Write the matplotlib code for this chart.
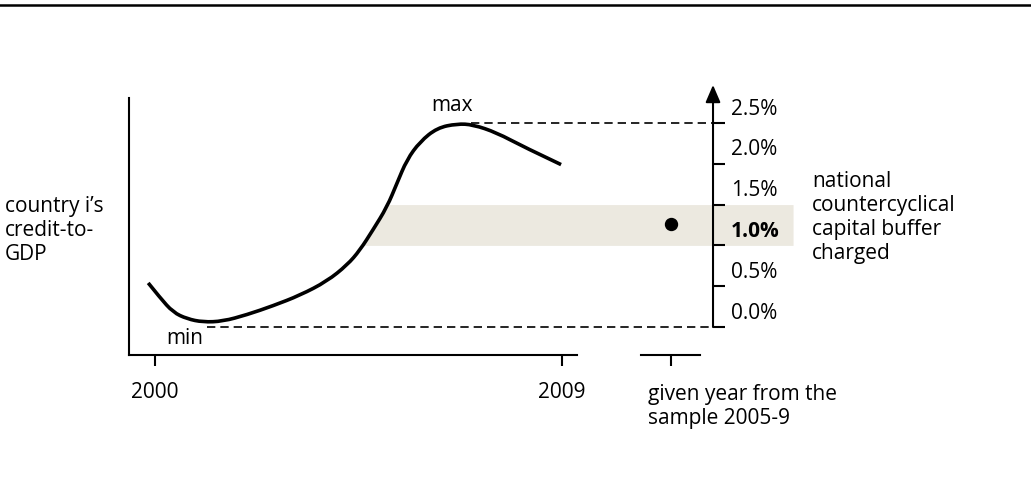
import numpy as np
import matplotlib.pyplot as plt
from matplotlib.lines import Line2D
from matplotlib.path import Path
from matplotlib.patches import PathPatch

plt.rcParams['font.family'] = ['Open Sans', 'DejaVu Sans']
plt.rcParams['font.size'] = 15

# Credit-to-GDP path (schematic)
years = [1999.85, 2000.11, 2000.40, 2000.71, 2001.06, 2001.50, 2002.03, 2002.61,
         2003.21, 2003.80, 2004.25, 2004.53, 2004.82, 2005.13, 2005.35, 2005.57,
         2005.86, 2006.24, 2006.68, 2007.03, 2007.56, 2008.14, 2008.98]
credit = [0.54, 0.36, 0.18, 0.10, 0.06, 0.07, 0.15, 0.26,
          0.39, 0.56, 0.76, 0.94, 1.19, 1.47, 1.76, 2.05,
          2.27, 2.44, 2.49, 2.48, 2.38, 2.21, 1.99]

# Buffer scale
buffer_ticks = [0.0, 0.5, 1.0, 1.5, 2.0, 2.5]
buffer_labels = ['0.0%', '0.5%', '1.0%', '1.5%', '2.0%', '2.5%']
band = [1.0, 1.5]
charged = 1.26

x_tick_years = [2000, 2009]
x_tick_labels = ['2000', '2009']
given_year = 2011.41

# layout (data units)
x_left, x_right = 1999.425, 2019.372
y_bottom, y_top = -0.343, 2.806
x_axis_end = 2009.33
x_axis2 = [2010.75, 2012.06]
scale_x = 2012.34
band_right = 2014.11
c_min, c_max = 0.0, 2.5

fig = plt.figure(figsize=(10.31, 4.8), dpi=100)
ax = fig.add_axes([129 / 1031, 125 / 480, 902 / 1031, 257 / 480])
ax.set_xlim(x_left, x_right)
ax.set_ylim(y_bottom, y_top)

for s in ['top', 'right']:
    ax.spines[s].set_visible(False)
ax.spines['left'].set_linewidth(1.5)
ax.spines['bottom'].set_linewidth(1.5)
ax.spines['bottom'].set_bounds(x_left, x_axis_end)
ax.spines['right'].set_position(('data', scale_x))

# shaded band: from the curve to the right
yb = np.linspace(band[0], band[1], 50)
rise = slice(9, 15)
xb = np.interp(yb, credit[rise], years[rise])
ax.fill_betweenx(yb, xb, band_right, color='#ECE9E0', lw=0, zorder=1, clip_on=False)

# dashed min / max lines
i_min = int(np.argmin(credit))
i_max = int(np.argmax(credit))
ax.plot([years[i_min] + 0.1, scale_x], [c_min, c_min], color='black', lw=1.2,
        dashes=(5, 3), zorder=2, clip_on=False)
ax.plot([years[i_max] + 0.3, scale_x], [c_max, c_max], color='black', lw=1.2,
        dashes=(5, 3), zorder=2, clip_on=False)

# curve, drawn as a smooth quadratic path through the read points
pts = np.column_stack([years, credit])
verts = [pts[0]]
codes = [Path.MOVETO]
for i in range(1, len(pts) - 2):
    verts += [pts[i], (pts[i] + pts[i + 1]) / 2]
    codes += [Path.CURVE3, Path.CURVE3]
verts += [pts[-2], pts[-1]]
codes += [Path.CURVE3, Path.CURVE3]
ax.add_patch(PathPatch(Path(verts, codes), fill=False, edgecolor='black', lw=2.6,
                       capstyle='butt', zorder=3))

ax.text(2006.57, 2.71, 'max', ha='center', va='center')
ax.text(2000.66, -0.135, 'min', ha='center', va='center')

# second x segment for the given year
ax.plot(x_axis2, [y_bottom, y_bottom], color='black', lw=1.5, clip_on=False)
ax.set_xticks(x_tick_years + [given_year], labels=x_tick_labels + [''])
ax.tick_params(axis='x', direction='out', length=8, width=1.5, pad=11.5)
ax.text(2010.90, -0.97, 'given year from the\nsample 2005-9', ha='left', va='center',
        linespacing=1.2)

# dot
ax.plot(given_year, charged, 'o', color='black', ms=8.6, zorder=4, clip_on=False)

# right scale with arrow
ax.annotate('', xy=(scale_x, 2.966), xytext=(scale_x, 0.0),
            arrowprops=dict(arrowstyle='-|>,head_length=0.7,head_width=0.3',
                            color='black', lw=1.5, shrinkA=0, shrinkB=0),
            annotation_clip=False)
ax.yaxis.tick_right()
ax.set_yticks(buffer_ticks, labels=[''] * len(buffer_ticks))
ax.set_yticks([b + 0.2 for b in buffer_ticks], labels=buffer_labels, minor=True)
ax.tick_params(axis='y', which='major', direction='out', length=8.6, width=1.5)
ax.tick_params(axis='y', which='minor', length=0, pad=13)
for lab in ax.get_yticklabels(minor=True):
    if lab.get_text() == '1.0%':
        lab.set_fontweight('bold')

ax.text(1996.68, 1.185, 'country i\u2019s\ncredit-to-\nGDP', ha='left', va='center',
        linespacing=1.2)
ax.text(2014.53, 1.34, 'national\ncountercyclical\ncapital buffer\ncharged',
        ha='left', va='center', linespacing=1.2)

fig.add_artist(Line2D([0, 1], [1 - 5 / 480, 1 - 5 / 480], color='black', lw=1.8,
                      transform=fig.transFigure))

fig.savefig('out.png', dpi=100)
